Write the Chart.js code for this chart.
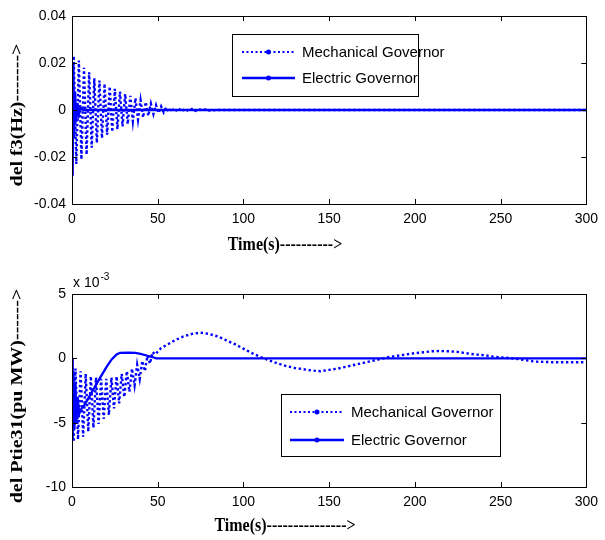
<!DOCTYPE html>
<html>
<head>
<meta charset="utf-8">
<script src="https://cdn.jsdelivr.net/npm/chart.js@4.4.0/dist/chart.umd.min.js"></script>
<style>
  html, body { margin: 0; padding: 0; background: #fff; }
  #wrap { position: relative; width: 605px; height: 540px; }
  canvas { position: absolute; left: 0; }
  #freq { top: 0; }
  #tie { top: 265px; }
</style>
</head>
<body>
<div id="wrap">
  <canvas id="freq" width="605" height="265"></canvas>
  <canvas id="tie" width="605" height="275"></canvas>
</div>
<script>
// axis ticks
const timeTicks = [0, 50, 100, 150, 200, 250, 300];
const freqTicks = [-0.04, -0.02, 0, 0.02, 0.04];
const tieTicks = [-10, -5, 0, 5];

// del f3 (Hz), mechanical governor
const f3MechTime = [
  0, 1, 2.5, 4, 5.5, 7, 8.5, 10, 11.5, 13,
  14.5, 16, 17.5, 19, 20.5, 22, 23.5, 25, 26.5, 28,
  29.5, 31, 32.5, 34, 35.5, 37, 38.5, 40, 41.5, 43,
  44.5, 46, 47.5, 49, 50.5, 52, 53.5, 55, 56.5, 58,
  60, 62, 64, 66, 68, 70, 72, 74, 76, 78,
  80, 85, 300];
const f3MechVal = [
  0, 0.023, -0.023, 0.021, -0.021, 0.018, -0.019, 0.016, -0.016, 0.0135,
  -0.014, 0.0125, -0.012, 0.0112, -0.0105, 0.010, -0.0093, 0.009, -0.0082, 0.0078,
  -0.007, 0.0068, -0.006, 0.006, -0.0048, 0.005, -0.004, 0.0042, -0.0032, 0.0034,
  -0.0025, 0.0027, -0.0017, 0.0021, -0.0013, 0.0015, -0.001, 0.0012, -0.0009, 0.001,
  -0.0008, 0.0008, -0.0006, 0.0006, -0.0005, 0.0005, -0.0004, 0.0004, -0.0003, 0.0003,
  -0.0002, 0, 0];

// del f3 (Hz), electric governor
const f3ElecTime = [0, 0.4, 0.8, 1.3, 1.8, 2.5, 3.2, 4, 5, 6.5, 300];
const f3ElecVal = [0, -0.028, 0.020, -0.012, 0.008, -0.005, 0.003, -0.002, 0.001, 0, 0];

// del Ptie31 (x1e-3 pu MW), mechanical governor
const tieMechTime = [
  0, 1, 2, 3.5, 5, 6.5, 8, 9.5, 11, 12.5,
  14, 15.5, 17, 18.5, 20, 21.5, 23, 24.5, 26, 27.5,
  29, 30.5, 32, 33.5, 35, 36.5, 38, 39.5, 41, 42.5,
  44, 45.5, 47, 48.5,
  52, 56, 60, 65, 70, 75, 80, 85, 90, 95,
  100, 105, 110, 115, 120, 125, 130, 135, 140, 145,
  150, 155, 160, 165, 170, 175, 180, 185, 190, 195,
  200, 205, 210, 215, 220, 225, 230, 235, 240, 245,
  250, 255, 260, 265, 270, 280, 290, 300];
const tieMechVal = [
  0, -6.5, -0.8, -6.3, -1.0, -6.1, -1.2, -5.7, -1.4, -5.4,
  -1.5, -5.1, -1.6, -4.7, -1.6, -4.4, -1.5, -3.9, -1.4, -3.5,
  -1.2, -3.0, -1.0, -2.6, -0.8, -2.1, -0.5, -1.6, -0.2, -1.0,
  0.2, -0.4, 0.5, 0.3,
  0.8, 1.1, 1.4, 1.7, 1.9, 2.0, 1.9, 1.7, 1.4, 1.1,
  0.75, 0.4, 0.1, -0.15, -0.4, -0.6, -0.75, -0.85, -0.95, -1.0,
  -0.9, -0.8, -0.65, -0.5, -0.35, -0.2, -0.05, 0.1, 0.2, 0.3,
  0.4, 0.47, 0.55, 0.57, 0.55, 0.5, 0.4, 0.3, 0.25, 0.15,
  0.08, 0.02, -0.05, -0.15, -0.25, -0.3, -0.3, -0.3];

// del Ptie31 (x1e-3 pu MW), electric governor
const tieElecTime = [0, 0.4, 0.9, 1.4, 2, 2.6, 3.3, 4.2, 5, 7, 10, 13, 16, 20, 23, 26, 28, 33, 37, 40, 44, 47, 49, 300];
const tieElecVal = [0, -6.3, -1.0, -5.5, -2.0, -5.0, -3.0, -4.3, -4.0, -3.7, -3.0, -2.3, -1.6, -0.7, -0.1, 0.3, 0.43, 0.45, 0.42, 0.35, 0.2, 0.1, 0, 0];

const seriesNames = ['Mechanical Governor', 'Electric Governor'];

const BLUE = '#0000ff';
const tickFont = { family: '"Liberation Sans", Arial, sans-serif', size: 14 };

function pts(ts, vs) {
  return ts.map((t, i) => ({ x: t, y: vs[i] }));
}

function datasets(mech, elec) {
  return [
    { label: seriesNames[0], data: mech, borderColor: BLUE, borderWidth: 2.4, borderDash: [2.4, 2.6], pointRadius: 0, order: 1 },
    { label: seriesNames[1], data: elec, borderColor: BLUE, borderWidth: 2.3, pointRadius: 0, order: 0 }
  ];
}

// frame, inward ticks, axis titles and legend box
function decorations(cfg) {
  return {
    id: 'decor',
    afterDraw(chart) {
      const { ctx, chartArea: a, scales: { x, y } } = chart;
      ctx.save();
      ctx.strokeStyle = '#000';
      ctx.lineWidth = 1;
      ctx.beginPath();
      x.ticks.forEach(t => {
        const px = Math.round(x.getPixelForValue(t.value)) + 0.5;
        ctx.moveTo(px, a.bottom); ctx.lineTo(px, a.bottom - 5);
        ctx.moveTo(px, a.top); ctx.lineTo(px, a.top + 5);
      });
      y.ticks.forEach(t => {
        const py = Math.round(y.getPixelForValue(t.value)) + 0.5;
        ctx.moveTo(a.left, py); ctx.lineTo(a.left + 5, py);
        ctx.moveTo(a.right, py); ctx.lineTo(a.right - 5, py);
      });
      ctx.stroke();
      ctx.strokeRect(Math.round(a.left) + 0.5, Math.round(a.top) + 0.5, Math.round(a.right - a.left), Math.round(a.bottom - a.top));

      // axis titles
      ctx.fillStyle = '#000';
      ctx.font = 'bold 16px "Liberation Serif", "Times New Roman", serif';
      ctx.textAlign = 'center';
      ctx.textBaseline = 'middle';
      ctx.save();
      ctx.translate(cfg.xTitle[1], cfg.xTitle[2]);
      ctx.scale(1, 1.2);
      ctx.fillText(cfg.xTitle[0], 0, 0);
      ctx.restore();
      ctx.save();
      ctx.translate(cfg.yTitle[1], cfg.yTitle[2]);
      ctx.rotate(-Math.PI / 2);
      ctx.scale(1.25, 1.1);
      ctx.fillText(cfg.yTitle[0], 0, 0);
      ctx.restore();

      if (cfg.exponent) {
        ctx.textAlign = 'left';
        ctx.textBaseline = 'alphabetic';
        ctx.font = '14px "Liberation Sans", Arial, sans-serif';
        ctx.fillText('x 10', cfg.exponent[0], cfg.exponent[1]);
        const w = ctx.measureText('x 10').width;
        ctx.font = '10px "Liberation Sans", Arial, sans-serif';
        ctx.fillText('-3', cfg.exponent[0] + w + 1, cfg.exponent[1] - 7);
      }

      // legend
      const L = cfg.legend;
      ctx.fillStyle = '#fff';
      ctx.fillRect(L.x0, L.y0, L.x1 - L.x0, L.y1 - L.y0);
      ctx.strokeStyle = '#000';
      ctx.strokeRect(L.x0 + 0.5, L.y0 + 0.5, L.x1 - L.x0, L.y1 - L.y0);
      chart.data.datasets.forEach((ds, i) => {
        const ry = L.rows[i];
        ctx.strokeStyle = ds.borderColor;
        ctx.lineWidth = ds.borderDash ? 2 : ds.borderWidth;
        ctx.setLineDash(ds.borderDash ? [2, 2.5] : []);
        ctx.beginPath();
        ctx.moveTo(L.lx0, ry); ctx.lineTo(L.lx1, ry);
        ctx.stroke();
        ctx.setLineDash([]);
        ctx.fillStyle = ds.borderColor;
        ctx.beginPath();
        ctx.arc((L.lx0 + L.lx1) / 2, ry, 2.5, 0, Math.PI * 2);
        ctx.fill();
        ctx.fillStyle = '#000';
        ctx.font = '15px "Liberation Sans", Arial, sans-serif';
        ctx.textAlign = 'left';
        ctx.textBaseline = 'middle';
        ctx.fillText(ds.label, L.tx, ry + 1);
      });
      ctx.restore();
    }
  };
}

function makeChart(id, mech, elec, yMin, yMax, yTicks, padTop, xAxisH, cfg) {
  return new Chart(document.getElementById(id), {
    type: 'line',
    data: { datasets: datasets(mech, elec) },
    options: {
      responsive: false,
      animation: false,
      devicePixelRatio: 1,
      layout: { padding: { top: padTop, right: 16, bottom: 0, left: 0 } },
      plugins: { legend: { display: false }, tooltip: { enabled: false } },
      scales: {
        x: {
          type: 'linear', min: 0, max: 300,
          afterBuildTicks: s => { s.ticks = timeTicks.map(v => ({ value: v })); },
          afterFit: s => { s.height = xAxisH; },
          grid: { display: false, drawTicks: false },
          border: { display: false },
          ticks: { color: '#000', font: tickFont, padding: 7, maxRotation: 0, callback: v => String(v) }
        },
        y: {
          type: 'linear', min: yMin, max: yMax,
          afterBuildTicks: s => { s.ticks = yTicks.map(v => ({ value: v })); },
          afterFit: s => { s.width = 72; },
          grid: { display: false, drawTicks: false },
          border: { display: false },
          ticks: { color: '#000', font: tickFont, padding: 6, callback: v => String(v) }
        }
      }
    },
    plugins: [decorations(cfg)]
  });
}

makeChart('freq', pts(f3MechTime, f3MechVal), pts(f3ElecTime, f3ElecVal), -0.04, 0.04, freqTicks, 16, 61, {
  xTitle: ['Time(s)---------->', 285, 245],
  yTitle: ['del f3(Hz)------->', 17, 115],
  legend: { x0: 232, y0: 34, x1: 418, y1: 96, rows: [52, 78], lx0: 242, lx1: 295, tx: 302 }
});

makeChart('tie', pts(tieMechTime, tieMechVal), pts(tieElecTime, tieElecVal), -10, 5, tieTicks, 29, 53, {
  xTitle: ['Time(s)--------------->', 285, 261],
  yTitle: ['del Ptie31(pu MW)------>', 17, 131],
  exponent: [73, 22],
  legend: { x0: 281, y0: 129, x1: 500, y1: 191, rows: [147, 175], lx0: 290, lx1: 344, tx: 351 }
});
</script>
</body>
</html>
